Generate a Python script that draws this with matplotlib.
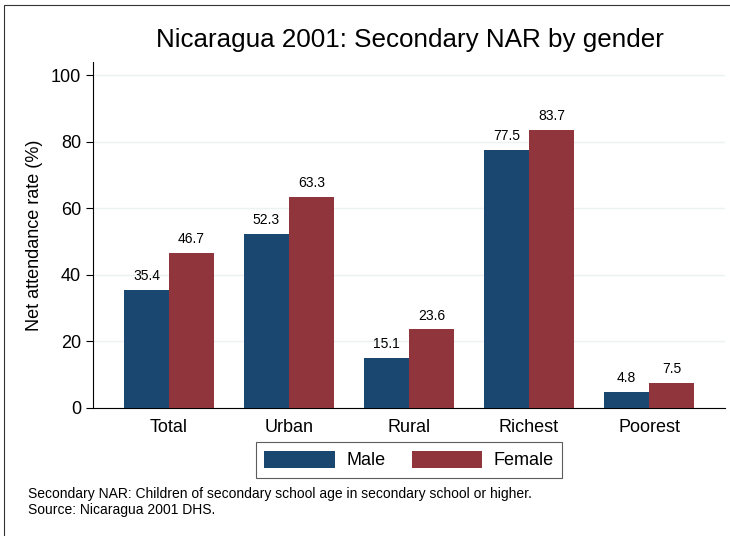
import matplotlib.pyplot as plt
import numpy as np
from matplotlib.patches import Rectangle

plt.rcParams['font.family'] = ['Liberation Sans', 'DejaVu Sans']

categories = ['Total', 'Urban', 'Rural', 'Richest', 'Poorest']
male = [35.4, 52.3, 15.1, 77.5, 4.8]
female = [46.7, 63.3, 23.6, 83.7, 7.5]

male_color = '#1a476f'
female_color = '#90353b'

fig = plt.figure(figsize=(7.3, 5.36), dpi=100)
ax = fig.add_axes([93 / 730, 1 - 408 / 536, (725 - 93) / 730, (408 - 62) / 536])

# outer frame (cropped on right/bottom in the reference)
fig.patches.append(Rectangle((4 / 730, -0.1), 1.2, 1 - 5 / 536 + 0.1,
                             transform=fig.transFigure, fill=False,
                             edgecolor='#333333', linewidth=0.8))

x = np.arange(len(categories))
w = 0.375
b1 = ax.bar(x - w / 2, male, w, color=male_color, label='Male', zorder=3)
b2 = ax.bar(x + w / 2, female, w, color=female_color, label='Female', zorder=3)

for bars, vals in ((b1, male), (b2, female)):
    for rect, v in zip(bars, vals):
        ax.annotate(f'{v:.1f}', (rect.get_x() + rect.get_width() / 2, v),
                    xytext=(0, 5), textcoords='offset points',
                    ha='center', va='bottom', fontsize=10)

ax.set_xlim(-0.633, 4.633)
ax.set_ylim(0, 104)
ax.set_yticks([0, 20, 40, 60, 80, 100])
ax.set_xticks(x)
ax.set_xticklabels(categories, fontsize=13)
ax.tick_params(axis='x', length=0, pad=8)
ax.tick_params(axis='y', labelsize=13, length=5, width=0.8)
ax.yaxis.grid(True, color='#eaf2f3', linewidth=1, zorder=0)
ax.set_axisbelow(True)

ax.spines['right'].set_color('none')
ax.spines['top'].set_color('none')
ax.spines['left'].set_linewidth(0.8)
ax.spines['bottom'].set_linewidth(0.8)

ax.set_ylabel('Net attendance rate (%)', fontsize=13, labelpad=6)

fig.text(410 / 730, 1 - 40 / 536, 'Nicaragua 2001: Secondary NAR by gender',
         ha='center', va='center', fontsize=18.7)

leg = ax.legend(loc='center', bbox_to_anchor=(409 / 730, 1 - 460 / 536),
                bbox_transform=fig.transFigure, ncol=2, fontsize=13,
                frameon=True, fancybox=False, edgecolor='#333333',
                handlelength=3.9, handleheight=1.1, handletextpad=0.65,
                columnspacing=1.45, borderpad=0.45)
leg.get_frame().set_linewidth(0.8)

fig.text(28 / 730, 1 - 494 / 536,
         'Secondary NAR: Children of secondary school age in secondary school or higher.',
         ha='left', va='center', fontsize=10)
fig.text(28 / 730, 1 - 510 / 536, 'Source: Nicaragua 2001 DHS.',
         ha='left', va='center', fontsize=10)

fig.savefig('out.png', dpi=100)
